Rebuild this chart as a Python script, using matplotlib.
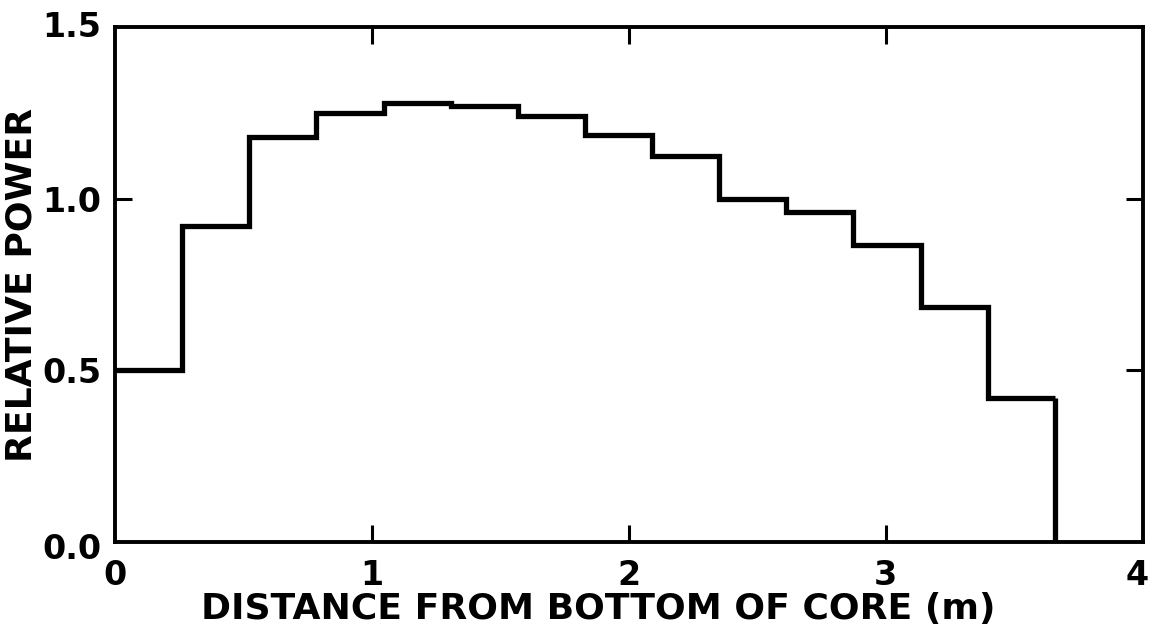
import matplotlib
matplotlib.use("Agg")
import matplotlib.pyplot as plt
import matplotlib.transforms as mtransforms

# Data: axial power distribution (14 axial nodes over a 3.66 m core)
bin_edges = [0.0, 0.261, 0.523, 0.784, 1.045, 1.306, 1.568, 1.829,
             2.090, 2.352, 2.613, 2.874, 3.135, 3.397, 3.658]
relative_power = [0.50, 0.92, 1.18, 1.25, 1.28, 1.27, 1.24, 1.185,
                  1.125, 1.00, 0.96, 0.865, 0.685, 0.42]
x_ticks = [0, 1, 2, 3, 4]
y_ticks = [0.0, 0.5, 1.0, 1.5]
y_tick_labels = ["0.0", "0.5", "1.0", "1.5"]
x_label = "DISTANCE FROM BOTTOM OF CORE (m)"
y_label = "RELATIVE POWER"

plt.rcParams['font.family'] = ['DejaVu Sans']
plt.rcParams['font.weight'] = 'bold'

fig = plt.figure(figsize=(11.51, 6.33), dpi=100)
ax = fig.add_axes([0.0999, 0.1438, 0.893, 0.8135])

ax.stairs(relative_power, bin_edges, color='black', linewidth=3.8,
          baseline=None)
ax.plot([bin_edges[-1], bin_edges[-1]], [relative_power[-1], 0],
        color='black', linewidth=3.8, solid_capstyle='butt')

ax.set_xlim(0, 4)
ax.set_ylim(0, 1.5)
ax.set_xticks(x_ticks)
ax.set_yticks(y_ticks)
ax.set_yticklabels(y_tick_labels)

for s in ax.spines.values():
    s.set_linewidth(2.8)

ax.tick_params(axis='both', which='both', direction='in', length=12,
               width=2.2, labelsize=24, top=True, right=True)
ax.tick_params(axis='x', pad=12)
ax.tick_params(axis='y', pad=10)
for lab in ax.get_xticklabels() + ax.get_yticklabels():
    lab.set_fontweight('bold')

for t in ax.xaxis.get_major_ticks():
    if t.get_loc() in (0, 4):
        t.tick1line.set_visible(False)
        t.tick2line.set_visible(False)
for t in ax.yaxis.get_major_ticks():
    if t.get_loc() in (0.0, 1.5):
        t.tick1line.set_visible(False)
        t.tick2line.set_visible(False)

# nudge end labels as in the original
xlabs = ax.get_xticklabels()
xlabs[-1].set_transform(xlabs[-1].get_transform() +
                        mtransforms.ScaledTranslation(-6/100, 0, fig.dpi_scale_trans))
ylabs = ax.get_yticklabels()
ylabs[0].set_transform(ylabs[0].get_transform() +
                       mtransforms.ScaledTranslation(0, -4/100, fig.dpi_scale_trans))
ylabs[-1].set_transform(ylabs[-1].get_transform() +
                        mtransforms.ScaledTranslation(0, 3/100, fig.dpi_scale_trans))

ax.set_xlabel(x_label, fontsize=26, fontweight='bold')
ax.xaxis.set_label_coords(0.47, -0.13)
ax.xaxis.label.set_va('center')
ax.set_ylabel(y_label, fontsize=26, fontweight='bold')
ax.yaxis.set_label_coords(-0.0905, 0.5)
ax.yaxis.label.set_va('center')

fig.savefig("out.png", dpi=100)
